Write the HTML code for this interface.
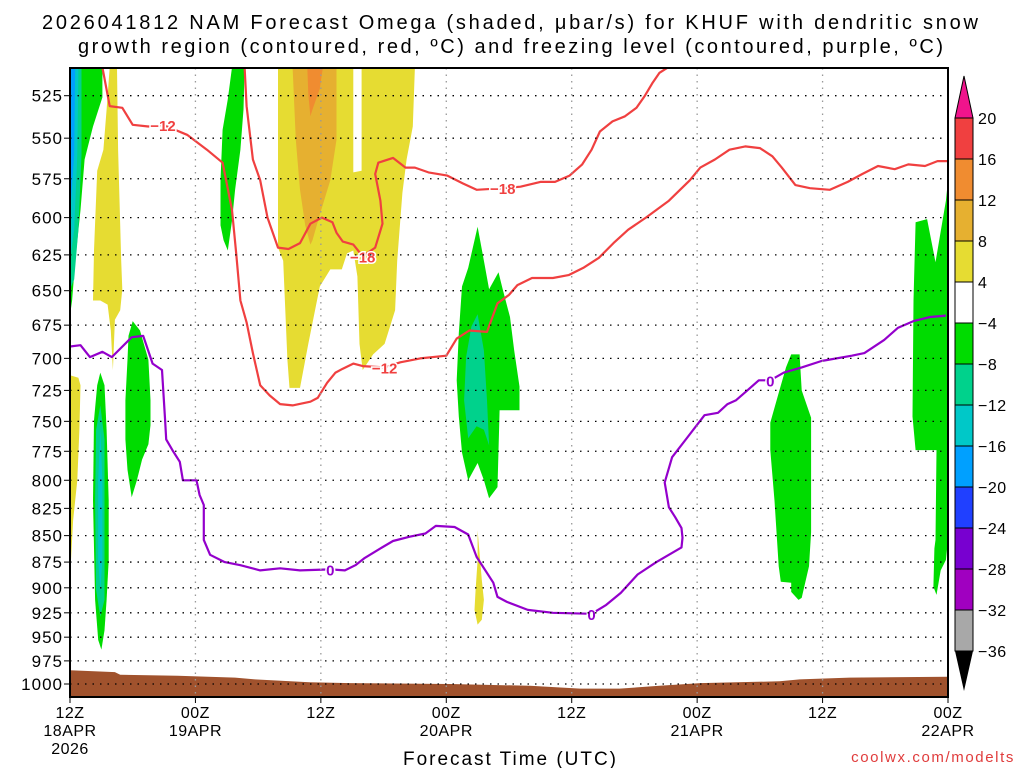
<!DOCTYPE html>
<html><head><meta charset="utf-8"><style>
html,body{margin:0;padding:0;background:#fff;}
svg{display:block;font-family:"Liberation Sans",sans-serif;}
</style></head><body>
<svg id="chart" width="1024" height="768" viewBox="0 0 1024 768" xmlns="http://www.w3.org/2000/svg">
<text x="42" y="29" font-size="20" textLength="936" lengthAdjust="spacing" fill="#000">2026041812 NAM Forecast Omega (shaded, μbar/s) for KHUF with dendritic snow</text>
<text x="78" y="53" font-size="20" textLength="865" lengthAdjust="spacing" fill="#000">growth region (contoured, red, ºC) and freezing level (contoured, purple, ºC)</text>
<g id="plot"></g>
<text x="403" y="765" font-size="19" textLength="213" lengthAdjust="spacing" fill="#000">Forecast Time (UTC)</text>
<text x="1015" y="762" font-size="15" text-anchor="end" fill="#e03c3c" letter-spacing="1.6">coolwx.com/modelts</text>
</svg>
<script>
var NS="http://www.w3.org/2000/svg";
// ---- data ----
var pressureTicks=[525,550,575,600,625,650,675,700,725,750,775,800,825,850,875,900,925,950,975,1000];
var timeTicks=[0,12,24,36,48,60,72,84];
var timeLabels1=["12Z","00Z","12Z","00Z","12Z","00Z","12Z","00Z"];
var timeLabels2=["18APR","19APR","","20APR","","21APR","","22APR"];
var timeLabels3=["2026","","","","","","",""];
var cbLevels=[20,16,12,8,4,-4,-8,-12,-16,-20,-24,-28,-32,-36];
var cbColors=["#f04040","#f08c30","#e6b030","#e6dc32","#ffffff","#00dc00","#00d28c","#00c8c8","#00a0ff","#2040ff","#7800d0","#a000c0","#a8a8a8"];
var groundHours=[0,4.3,4.8,10.3,15.8,17.7,22.9,26.8,36.4,44,48.8,52.6,56.4,60.3,67.9,69.8,74.6,84];
var groundPres=[985,987,990,991,993,995,998,999,1000,1002,1005,1005,1002,999,997,995,993,992];
var shadeGreenLeft=[[0,509],[3.1,509],[3.1,526],[2.2,543],[1.4,563],[1.0,595],[0.5,629],[0.2,657],[0,668]];
var shadeTealLeft=[[0,509],[1.1,509],[1.1,560],[0.8,608],[0.4,642],[0,649]];
var shadeCyanLeft=[[0,509],[0.8,509],[0.7,560],[0.4,608],[0,629]];
var shadeBlueLeft=[[0,509],[0.5,509],[0.4,560],[0.1,589],[0,589]];
var shadeYellowStrip=[[0,713],[0.8,715],[1.0,721],[0.9,757],[0.7,800],[0.3,836],[0.1,873],[0,873]];
var shadeYellowEarly=[[3.8,509],[4.5,509],[4.6,557],[4.9,629],[5.0,649],[4.8,664],[4.3,671],[4.1,709],[3.9,679],[3.6,660],[2.9,657],[2.2,657],[2.3,622],[2.6,570],[3.2,557],[3.5,533]];
var shadeGreenLow1=[[2.9,711],[3.3,721],[3.5,757],[3.7,818],[3.7,873],[3.5,912],[3.3,943],[3.0,963],[2.7,953],[2.4,912],[2.2,818],[2.3,749],[2.6,721]];
var shadeTealLow1=[[2.9,737],[3.3,765],[3.3,836],[3.3,912],[2.9,929],[2.5,902],[2.4,818],[2.5,757]];
var shadeCyanLow1=[[2.9,757],[3.1,800],[3.1,873],[2.9,902],[2.7,873],[2.7,800]];
var shadeGreenMid1=[[6.0,672],[6.7,679],[7.5,701],[7.7,733],[7.7,753],[7.5,769],[6.9,782],[6.4,800],[5.9,815],[5.5,791],[5.3,765],[5.3,733],[5.5,701],[5.6,683]];
var shadeGreenTop=[[15.5,509],[16.7,509],[16.6,533],[16.3,557],[15.8,582],[15.5,602],[15.1,622],[14.7,615],[14.4,605],[14.4,576],[14.6,545],[15.1,527]];
var shadeYellowBig=[[19.9,509],[27.1,509],[27.1,571],[27.9,570],[27.9,509],[33.0,509],[32.8,543],[32.2,563],[31.8,584],[31.3,629],[31.1,664],[30.1,689],[29.0,697],[28.0,709],[27.7,689],[27.5,640],[27.1,622],[26.5,624],[26.0,635],[24.9,635],[23.9,647],[22.8,689],[22.0,723],[21.0,723],[20.8,701],[20.4,629],[19.9,620]];
var shadeGold=[[21.3,509],[25.5,509],[25.5,551],[24.9,576],[23.9,598],[23.2,615],[23.0,618],[22.5,605],[22.0,582],[21.6,551]];
var shadeOrange=[[22.7,509],[24.2,509],[23.9,521],[23.2,533],[23.0,537],[22.8,524]];
var shadeYellowSmall=[[39.0,845],[39.2,868],[39.4,892],[39.6,912],[39.4,932],[39.0,937],[38.7,922],[38.8,902],[39.0,873]];
var shadeGreenDay2=[[39.0,606],[39.6,629],[40.1,649],[41.0,637],[41.4,649],[42.1,669],[42.5,694],[43.0,722],[43.0,741],[41.1,741],[40.9,806],[40.1,816],[39.6,800],[39.0,785],[38.1,800],[37.5,776],[37.2,746],[37.0,717],[37.2,681],[37.5,647],[38.1,634]];
var shadeTealDay2=[[39.0,667],[39.6,694],[39.9,733],[40.1,770],[39.6,757],[38.9,754],[38.1,764],[37.7,733],[37.9,699],[38.4,676]];
var shadeGreenDay3=[[69.0,697],[69.8,697],[70.0,725],[70.9,747],[70.9,847],[70.7,879],[70.0,910],[69.7,912],[69.0,904],[69.0,895],[68.0,894],[67.8,879],[67.4,818],[67.0,774],[67.0,751],[67.8,727],[68.5,707]];
var shadeGreenEnd=[[80.9,603],[82.0,601],[82.8,630],[83.8,589],[84,576],[84,854],[83.8,873],[83.3,883],[82.9,907],[82.6,899],[82.7,862],[82.8,854],[82.9,774],[80.9,774],[80.6,746],[80.7,657]];
var redMinus12=[[3.1,509],[3.8,531],[5.0,532],[6.0,542],[7.5,543],[8.9,542],[11.2,548],[13.1,557],[14.6,565],[15.5,595],[15.9,624],[16.3,657],[16.9,673],[17.5,696],[18.2,721],[19.1,729],[20.1,736],[21.3,737],[23.0,734],[23.7,731],[24.6,719],[25.4,711],[26.1,708],[27.1,704],[28.0,706],[30.1,707],[31.6,703],[33.5,700],[36.0,698],[37.0,685],[38.2,679],[39.9,680],[40.9,659],[42.0,653],[42.8,646],[44.2,641],[46.2,641],[47.7,639],[49.1,634],[50.6,627],[52.0,617],[53.4,608],[55.1,600],[57.3,589],[59.3,576],[60.3,568],[61.7,563],[63.1,557],[64.6,555],[66.0,556],[67.2,561],[68.1,568],[69.4,579],[70.8,581],[72.7,582],[74.4,577],[75.8,572],[77.3,567],[78.9,569],[80.2,566],[81.8,567],[83.0,564],[84,564]];
var redMinus18=[[16.7,509],[16.9,531],[17.5,563],[18.2,576],[18.9,600],[19.9,620],[20.9,621],[22.0,617],[23.0,604],[24.1,600],[25.1,603],[25.5,610],[26.1,616],[27.1,618],[28.0,626],[29.2,620],[29.9,604],[29.7,589],[29.2,572],[29.5,565],[30.9,562],[32.1,568],[33.0,568],[34.3,571],[36.1,573],[37.6,578],[38.9,582],[41.4,581],[43.1,580],[45.0,577],[46.4,577],[47.8,573],[49.0,566],[49.9,557],[50.7,546],[51.9,540],[53.1,537],[54.2,532],[55.0,525],[55.7,518],[56.4,512],[57.2,509],[59.3,509]];
var redMinus18b=[[81.3,509],[84,509]];
var purpleZero=[[0,691],[1.0,690],[1.9,699],[3.1,695],[4.0,699],[5.9,684],[7.0,683],[7.9,704],[8.8,709],[9.1,749],[9.2,765],[9.8,774],[10.5,784],[10.8,800],[12.1,800],[12.4,813],[12.8,822],[12.8,854],[13.4,868],[14.8,875],[16.3,878],[18.2,883],[20.1,881],[22.0,883],[24.9,882],[26.3,883],[27.3,878],[28.2,871],[29.7,862],[30.9,855],[32.5,851],[34.0,848],[35.0,841],[36.8,842],[38.1,849],[38.9,870],[40.5,895],[40.9,909],[41.8,914],[43.8,922],[46.2,925],[49.9,926],[51.3,917],[52.7,905],[54.3,887],[56.1,875],[58.5,861],[58.6,852],[58.5,843],[57.9,833],[57.3,824],[56.9,802],[57.6,780],[59.1,763],[60.7,745],[62.0,743],[62.9,736],[63.7,733],[64.8,725],[65.9,717],[67.0,717],[68.3,711],[70.0,707],[71.9,702],[74.8,698],[76.0,696],[77.9,686],[79.2,677],[80.7,672],[82.3,669],[83.8,668]];
var redLabels=[["−12",8.9,542],["−12",30.1,707],["−18",28.0,626],["−18",41.4,581]];
var purpleLabels=[["0",24.9,882],["0",49.9,926],["0",67.0,717]];

// ---- axes ----
var X0=70,X1=948,Y0=68,Y1=697;
function xS(h){return X0+h*(X1-X0)/84;}
function yS(p){return 684-913*Math.log(1000/p);}
var plot=document.getElementById('plot');
function mk(tag,attrs,parent){var e=document.createElementNS(NS,tag);for(var k in attrs)e.setAttribute(k,attrs[k]);(parent||plot).appendChild(e);return e;}
function pts(arr){return arr.map(function(d){return xS(d[0]).toFixed(1)+","+yS(d[1]).toFixed(1);}).join(" ");}

var defs=mk('defs',{});
var cp=mk('clipPath',{id:'clip'},defs);
mk('rect',{x:X0,y:Y0,width:X1-X0,height:Y1-Y0},cp);
var g=mk('g',{'clip-path':'url(#clip)'});

var shades=[[shadeGreenLeft,"#00dc00","shade-green-left"],[shadeTealLeft,"#00d28c","shade-teal-left"],[shadeCyanLeft,"#00c8c8","shade-cyan-left"],[shadeBlueLeft,"#00a0ff","shade-blue-left"],
[shadeYellowStrip,"#e6dc32","shade-yellow-strip"],[shadeYellowEarly,"#e6dc32","shade-yellow-early"],
[shadeGreenLow1,"#00dc00","shade-green-low"],[shadeTealLow1,"#00d28c","shade-teal-low"],[shadeCyanLow1,"#00c8c8","shade-cyan-low"],
[shadeGreenMid1,"#00dc00","shade-green-mid"],[shadeGreenTop,"#00dc00","shade-green-top"],
[shadeYellowBig,"#e6dc32","shade-yellow-big"],[shadeGold,"#e6b030","shade-gold"],[shadeOrange,"#f08c30","shade-orange"],
[shadeYellowSmall,"#e6dc32","shade-yellow-small"],[shadeGreenDay2,"#00dc00","shade-green-day2"],[shadeTealDay2,"#00d28c","shade-teal-day2"],
[shadeGreenDay3,"#00dc00","shade-green-day3"],[shadeGreenEnd,"#00dc00","shade-green-end"]];
shades.forEach(function(s){
  var e=mk('polygon',{points:pts(s[0]),fill:s[1]},g);
  
  
});

// ground
var gp=groundHours.map(function(h,i){return [h,groundPres[i]];});
var gstr=pts(gp)+" "+xS(84)+","+Y1+" "+xS(0)+","+Y1;
var ground=mk('polygon',{points:gstr,fill:"#a0522d"},g);



// gridlines
pressureTicks.forEach(function(p){
  var y=yS(p);
  var l=mk('line',{x1:X0,x2:X1,y1:y,y2:y,stroke:"#000","stroke-width":1.3,"stroke-dasharray":"1.5 6"});
  
  
  var t=mk('line',{x1:X0-6,x2:X0,y1:y,y2:y,stroke:"#000","stroke-width":1});
  
  
  var tx=mk('text',{x:X0-7,y:y+6,"font-size":17,"text-anchor":"end",fill:"#000","letter-spacing":1});
  tx.textContent=p;
  
  
});
timeTicks.forEach(function(h,i){
  var x=xS(h);
  if(i>0&&i<timeTicks.length-1){
    var l=mk('line',{x1:x,x2:x,y1:Y0,y2:Y1,stroke:"#999","stroke-width":1.3,"stroke-dasharray":"1.5 5"});
    
    
  }
  var t=mk('line',{x1:x,x2:x,y1:Y1,y2:Y1+6,stroke:"#000","stroke-width":1});
  
  
  [timeLabels1[i],timeLabels2[i],timeLabels3[i]].forEach(function(s,j){
    if(!s)return;
    var tx=mk('text',{x:x,y:718+j*18,"font-size":16,"text-anchor":"middle",fill:"#000","letter-spacing":0.5});
    tx.textContent=s;
    
    
  });
});

// contours
function line(arr,color,name){
  var e=mk('polyline',{points:pts(arr),fill:"none",stroke:color,"stroke-width":2.2,"stroke-linejoin":"round"},g);
  
  
}
line(redMinus12,"#f04040","contour-minus12");
line(redMinus18,"#f04040","contour-minus18");
line(redMinus18b,"#f04040","contour-minus18-top");
line(purpleZero,"#9400cc","freezing-level-0");
function lab(arr,color,name){
  arr.forEach(function(d){
    var t=mk('text',{x:xS(d[1]),y:yS(d[2])+6,"font-size":15,"font-weight":"bold","text-anchor":"middle",fill:color,stroke:"#fff","stroke-width":3,"paint-order":"stroke"},g);
    t.textContent=d[0];
    
    
  });
}
lab(redLabels,"#f04040","contour-label-red");
lab(purpleLabels,"#9400cc","contour-label-purple");

// border
var b=mk('rect',{x:X0,y:Y0,width:X1-X0,height:Y1-Y0,fill:"none",stroke:"#000","stroke-width":2});



// colorbar
var CBX=955,CBW=18,CBT=118,CBH=41;
var tri=mk('polygon',{points:CBX+","+CBT+" "+(CBX+CBW)+","+CBT+" "+(CBX+CBW/2)+",76",fill:"#f0148c",stroke:"#000","stroke-width":1});


cbColors.forEach(function(c,i){
  var r=mk('rect',{x:CBX,y:CBT+i*CBH,width:CBW,height:CBH,fill:c,stroke:"#000","stroke-width":1});
  
  
});
var bot=CBT+cbColors.length*CBH;
var tri2=mk('polygon',{points:CBX+","+bot+" "+(CBX+CBW)+","+bot+" "+(CBX+CBW/2)+","+(bot+40),fill:"#000"});


cbLevels.forEach(function(v,i){
  var t=mk('text',{x:CBX+CBW+5,y:CBT+i*CBH+6,"font-size":16,fill:"#000","letter-spacing":0.5});
  t.textContent=(v<0?"−"+(-v):v);
  
  
});
</script>
</body></html>
